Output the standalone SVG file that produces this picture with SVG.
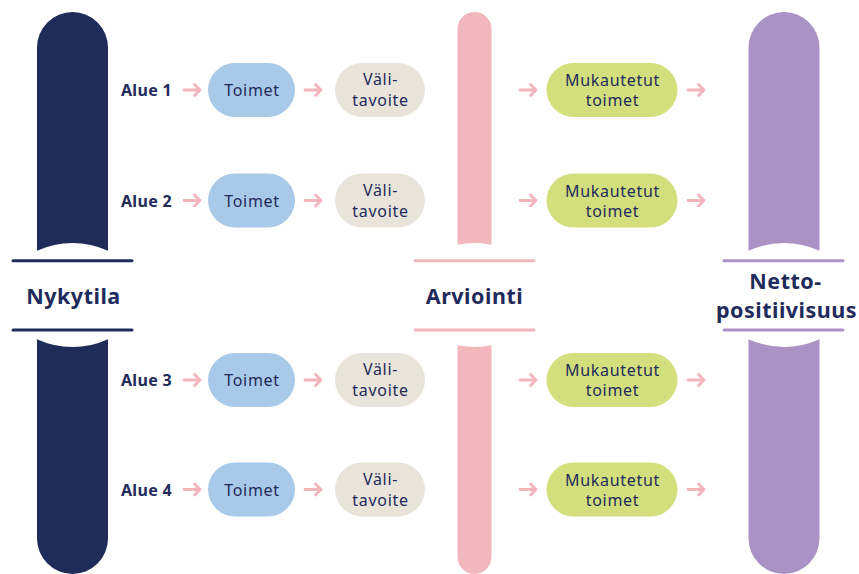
<svg xmlns="http://www.w3.org/2000/svg" width="859" height="574" viewBox="0 0 859 574">
<style>
text{font-family:"Noto Sans","Liberation Sans",sans-serif;fill:#1f2b5b}
.lbl{font-size:16px;font-weight:700;letter-spacing:0.3px}
.big{font-size:21.5px;font-weight:700;text-anchor:middle;letter-spacing:0.5px}
.nt{font-size:16px;text-anchor:middle;letter-spacing:0.7px}
.toim{fill:#a8c9e7}
.vali{fill:#e9e4da}
.muk{fill:#d3df7c}
.arr{fill:none;stroke:#f3b4bc;stroke-width:2.8;stroke-linecap:round;stroke-linejoin:round}
.sep{stroke-width:3;stroke-linecap:round}
</style>
<rect width="859" height="574" fill="#ffffff"/>

<g id="nykytila">
<path fill="#1f2c5a" d="M37,250.8 V47.5 A35.5,35.5 0 0 1 108,47.5 V250.8 A85,85 0 0 0 37,250.8 Z"/>
<path fill="#1f2c5a" d="M37,339.2 A85,85 0 0 0 108,339.2 V538.5 A35.5,35.5 0 0 1 37,538.5 Z"/>
<line class="sep" stroke="#1f2c5a" x1="13" y1="260.7" x2="132" y2="260.7"/>
<line class="sep" stroke="#1f2c5a" x1="13" y1="330" x2="132" y2="330"/>
<text class="big" x="73.5" y="304">Nykytila</text>
</g>

<g id="arviointi">
<path fill="#f2b6bd" d="M457.5,244.7 V29 A17,17 0 0 1 491.5,29 V244.7 A85,85 0 0 0 457.5,244.7 Z"/>
<path fill="#f2b6bd" d="M457.5,345.3 A85,85 0 0 0 491.5,345.3 V557 A17,17 0 0 1 457.5,557 Z"/>
<line class="sep" stroke="#f2b6bd" x1="415" y1="260.7" x2="534" y2="260.7"/>
<line class="sep" stroke="#f2b6bd" x1="415" y1="330" x2="534" y2="330"/>
<text class="big" x="474.5" y="304">Arviointi</text>
</g>

<g id="nettopositiivisuus">
<path fill="#ab92c5" d="M748.5,250.8 V47.5 A35.5,35.5 0 0 1 819.5,47.5 V250.8 A85,85 0 0 0 748.5,250.8 Z"/>
<path fill="#ab92c5" d="M748.5,339.2 A85,85 0 0 0 819.5,339.2 V538.5 A35.5,35.5 0 0 1 748.5,538.5 Z"/>
<line class="sep" stroke="#ab92c5" x1="724" y1="260.7" x2="843" y2="260.7"/>
<line class="sep" stroke="#ab92c5" x1="724" y1="330" x2="843" y2="330"/>
<text class="big" x="785.5" y="288.5">Netto-</text>
<text class="big" x="786.5" y="317.5">positiivisuus</text>
</g>

<g id="row1">
<text class="lbl" x="121" y="96">Alue 1</text>
<g id="toimet1"><rect class="toim" x="208" y="63" width="87" height="54" rx="27"/><text class="nt" x="252" y="96">Toimet</text></g>
<g id="vali1"><rect class="vali" x="335" y="63" width="90" height="54" rx="27"/><text class="nt" x="380.5" y="85">Väli-</text><text class="nt" x="380.5" y="106">tavoite</text></g>
<g id="muk1"><rect class="muk" x="546.5" y="63" width="131" height="54" rx="27"/><text class="nt" x="612.5" y="86">Mukautetut</text><text class="nt" x="612.5" y="106">toimet</text></g>
</g>

<g id="row2">
<text class="lbl" x="121" y="206.5">Alue 2</text>
<g id="toimet2"><rect class="toim" x="208" y="173.5" width="87" height="54" rx="27"/><text class="nt" x="252" y="206.5">Toimet</text></g>
<g id="vali2"><rect class="vali" x="335" y="173.5" width="90" height="54" rx="27"/><text class="nt" x="380.5" y="195.5">Väli-</text><text class="nt" x="380.5" y="216.5">tavoite</text></g>
<g id="muk2"><rect class="muk" x="546.5" y="173.5" width="131" height="54" rx="27"/><text class="nt" x="612.5" y="196.5">Mukautetut</text><text class="nt" x="612.5" y="216.5">toimet</text></g>
</g>

<g id="row3">
<text class="lbl" x="121" y="386">Alue 3</text>
<g id="toimet3"><rect class="toim" x="208" y="353" width="87" height="54" rx="27"/><text class="nt" x="252" y="386">Toimet</text></g>
<g id="vali3"><rect class="vali" x="335" y="353" width="90" height="54" rx="27"/><text class="nt" x="380.5" y="375">Väli-</text><text class="nt" x="380.5" y="396">tavoite</text></g>
<g id="muk3"><rect class="muk" x="546.5" y="353" width="131" height="54" rx="27"/><text class="nt" x="612.5" y="376">Mukautetut</text><text class="nt" x="612.5" y="396">toimet</text></g>
</g>

<g id="row4">
<text class="lbl" x="121" y="495.5">Alue 4</text>
<g id="toimet4"><rect class="toim" x="208" y="462.5" width="87" height="54" rx="27"/><text class="nt" x="252" y="495.5">Toimet</text></g>
<g id="vali4"><rect class="vali" x="335" y="462.5" width="90" height="54" rx="27"/><text class="nt" x="380.5" y="484.5">Väli-</text><text class="nt" x="380.5" y="505.5">tavoite</text></g>
<g id="muk4"><rect class="muk" x="546.5" y="462.5" width="131" height="54" rx="27"/><text class="nt" x="612.5" y="485.5">Mukautetut</text><text class="nt" x="612.5" y="505.5">toimet</text></g>
</g>

<g id="connectors" class="arr">
<path d="M184,90 H200 M194.5,84.5 L200,90 L194.5,95.5"/>
<path d="M305,90 H321 M315.5,84.5 L321,90 L315.5,95.5"/>
<path d="M520,90 H536 M530.5,84.5 L536,90 L530.5,95.5"/>
<path d="M688,90 H704 M698.5,84.5 L704,90 L698.5,95.5"/>

<path d="M184,200.5 H200 M194.5,195 L200,200.5 L194.5,206"/>
<path d="M305,200.5 H321 M315.5,195 L321,200.5 L315.5,206"/>
<path d="M520,200.5 H536 M530.5,195 L536,200.5 L530.5,206"/>
<path d="M688,200.5 H704 M698.5,195 L704,200.5 L698.5,206"/>

<path d="M184,380 H200 M194.5,374.5 L200,380 L194.5,385.5"/>
<path d="M305,380 H321 M315.5,374.5 L321,380 L315.5,385.5"/>
<path d="M520,380 H536 M530.5,374.5 L536,380 L530.5,385.5"/>
<path d="M688,380 H704 M698.5,374.5 L704,380 L698.5,385.5"/>

<path d="M184,489.5 H200 M194.5,484 L200,489.5 L194.5,495"/>
<path d="M305,489.5 H321 M315.5,484 L321,489.5 L315.5,495"/>
<path d="M520,489.5 H536 M530.5,484 L536,489.5 L530.5,495"/>
<path d="M688,489.5 H704 M698.5,484 L704,489.5 L698.5,495"/>
</g>
</svg>
